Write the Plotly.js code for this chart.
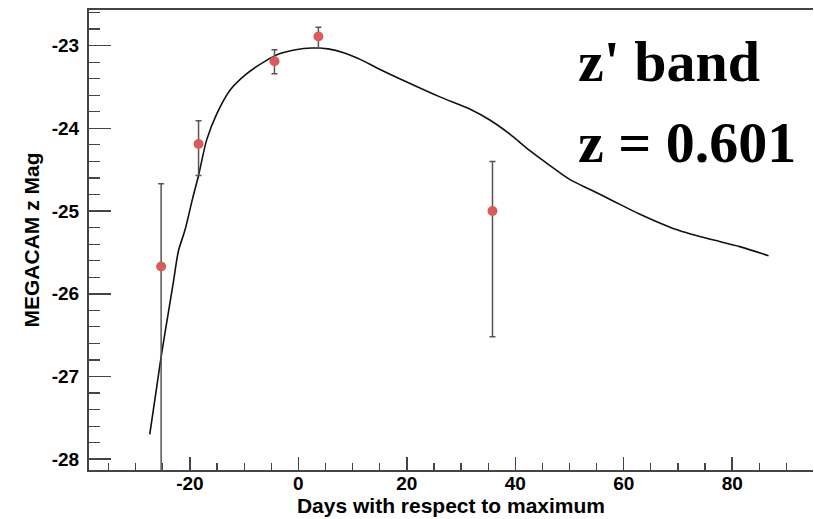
<!DOCTYPE html>
<html>
<head>
<meta charset="utf-8">
<script src="https://cdn.plot.ly/plotly-3.0.1.min.js"></script>
<style>html,body{margin:0;padding:0;background:#fff;}#chart{width:814px;height:519px;}</style>
</head>
<body>
<div id="chart"></div>
<script>
// Observed points
const obsDays = [-25.3, -18.4, -4.4, 3.7, 35.8];
const obsMag = [-25.67, -24.19, -23.19, -22.89, -25.00];
const obsErrPlus = [1.00, 0.28, 0.14, 0.11, 0.60];
const obsErrMinus = [3.00, 0.38, 0.15, 0.14, 1.52];

// Template light curve
const modelDays = [-27.4, -26.3, -25.2, -24.0, -23.0, -22.1, -20.9, -19.5, -18.4, -16.9, -15.0, -12.6, -9.5, -6.4, -3.5, -0.5, 2.5, 5.5, 8.5, 11.5, 14.5, 20.0, 26.1, 31.7, 35.3, 39.0, 42.7, 46.4, 50.1, 53.8, 57.5, 63.0, 69.1, 75.3, 81.4, 86.7];
const modelMag = [-27.70, -27.21, -26.72, -26.24, -25.84, -25.48, -25.23, -24.85, -24.57, -24.14, -23.82, -23.54, -23.34, -23.20, -23.10, -23.05, -23.03, -23.04, -23.09, -23.17, -23.27, -23.44, -23.62, -23.77, -23.90, -24.07, -24.27, -24.45, -24.62, -24.74, -24.86, -25.04, -25.21, -25.33, -25.43, -25.54];

const xTickVals = [-20, 0, 20, 40, 60, 80];
const yTickVals = [-28, -27, -26, -25, -24, -23];

const sans = 'Liberation Sans, Arial, Helvetica, sans-serif';
const serif = 'Liberation Serif, Times New Roman, serif';

const traces = [
  {
    x: modelDays, y: modelMag, type: 'scatter', mode: 'lines',
    line: {color: '#111', width: 1.6, shape: 'spline', smoothing: 0.8},
    hoverinfo: 'skip', showlegend: false
  },
  {
    x: obsDays, y: obsMag, type: 'scatter', mode: 'markers',
    marker: {color: '#d95b5b', size: 10},
    error_y: {type: 'data', symmetric: false, array: obsErrPlus, arrayminus: obsErrMinus,
              color: '#555', thickness: 1.5, width: 3},
    showlegend: false
  }
];

const layout = {
  width: 814, height: 519,
  margin: {l: 89, r: 1, t: 10, b: 49},
  paper_bgcolor: '#fff', plot_bgcolor: '#fff',
  showlegend: false,
  xaxis: {
    range: [-38.6, 94.9], showgrid: false, zeroline: false,
    showline: true, linecolor: '#444', linewidth: 2, mirror: true,
    tickmode: 'array', tickvals: xTickVals, ticktext: xTickVals.map(v => '<b>' + v + '</b>'),
    ticks: 'inside', ticklen: 13, tickwidth: 1.5, tickcolor: '#444',
    minor: {dtick: 5, ticks: 'inside', ticklen: 7, tickwidth: 1.2, tickcolor: '#444'},
    tickfont: {family: sans, size: 19, color: '#000', weight: 700},
    ticklabelstandoff: -5,
    title: {text: '<b>Days with respect to maximum</b>', font: {family: sans, size: 21, color: '#000'}, standoff: 0}
  },
  yaxis: {
    range: [-28.13, -22.57], showgrid: false, zeroline: false,
    showline: true, linecolor: '#444', linewidth: 2, mirror: false,
    tickmode: 'array', tickvals: yTickVals, ticktext: yTickVals.map(v => '<b>' + v + '</b>'),
    ticks: 'inside', ticklen: 22, tickwidth: 1.5, tickcolor: '#444',
    minor: {dtick: 0.2, ticks: 'inside', ticklen: 11, tickwidth: 1.2, tickcolor: '#444'},
    tickfont: {family: sans, size: 19, color: '#000', weight: 700},
    ticklabelstandoff: 4,
    title: {text: '<b>MEGACAM z Mag</b>', font: {family: sans, size: 21, color: '#000'}, standoff: 6}
  },
  annotations: [
    {xref: 'paper', yref: 'paper', x: 0.673, y: 0.887, xanchor: 'left', yanchor: 'middle',
     text: "<b>z' band</b>", showarrow: false,
     font: {family: serif, size: 58, color: '#000'}},
    {xref: 'paper', yref: 'paper', x: 0.673, y: 0.713, xanchor: 'left', yanchor: 'middle',
     text: '<b>z = 0.601</b>', showarrow: false,
     font: {family: serif, size: 58, color: '#000'}}
  ]
};

Plotly.newPlot('chart', traces, layout, {displayModeBar: false, staticPlot: true});
</script>
</body>
</html>
